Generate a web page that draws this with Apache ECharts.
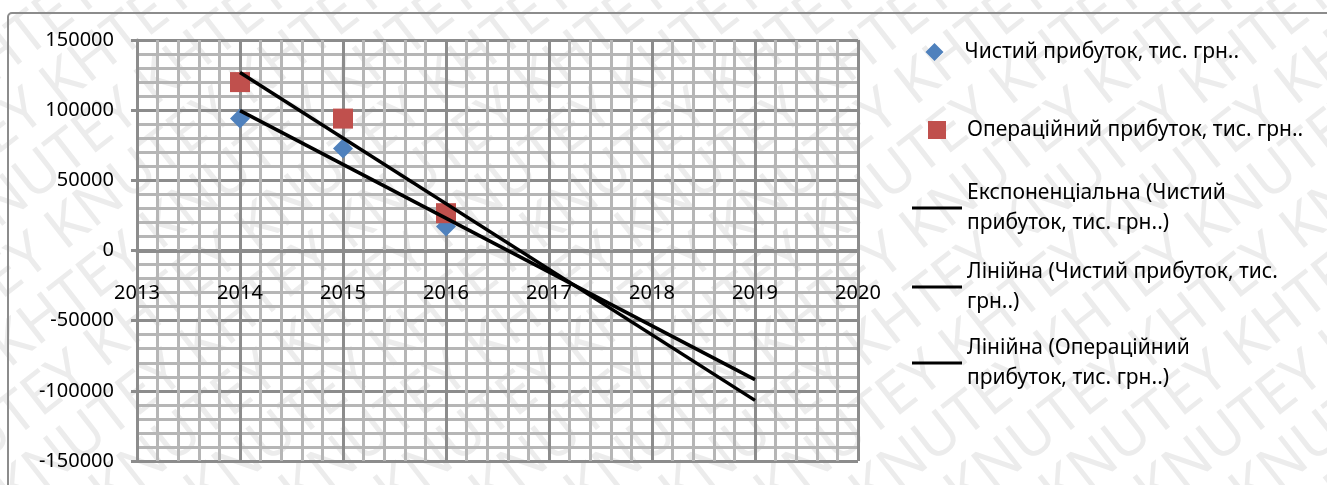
<!DOCTYPE html>
<html><head><meta charset="utf-8">
<script src="https://cdn.jsdelivr.net/npm/echarts@6/dist/echarts.min.js"></script>
<style>html,body{margin:0;padding:0;background:#fff}#c{width:1327px;height:485px}</style>
</head><body><div id="c"></div>
<script>
// ---- data ----
const years = [2014, 2015, 2016];
const netProfit = [94000, 72600, 17100];
const operatingProfit = [120000, 94000, 26600];
const netExpTrend = [];                       // not drawn in the reference
const netLinearTrend = [[2014, 99700], [2019, -92000]];
const opLinearTrend = [[2014, 126900], [2019, -106800]];
const xAxisRange = [2013, 2020];
const yAxisRange = [-150000, 150000];
const seriesNames = [
  'Чистий прибуток, тис. грн..',
  'Операційний прибуток, тис. грн..',
  'Експоненціальна (Чистий прибуток, тис. грн..)',
  'Лінійна (Чистий прибуток, тис. грн..)',
  'Лінійна (Операційний прибуток, тис. грн..)'
];
const legendLabels = [
  'Чистий прибуток, тис. грн..',
  'Операційний прибуток, тис. грн..',
  'Експоненціальна (Чистий\nприбуток, тис. грн..)',
  'Лінійна (Чистий прибуток, тис.\nгрн..)',
  'Лінійна (Операційний\nприбуток, тис. грн..)'
];
const watermarkText = 'KNUTEY KHTEY ';

const FONT = 'Noto Sans';
const MAJOR = '#8c8c8c';
const MINOR = '#b6b6b6';

const chart = echarts.init(document.getElementById('c'), null, {renderer: 'canvas'});

// legend icons drawn inside a 50x18 box (corner dots keep the box undistorted)
const BOX_A = 'M0,0h0.01v0.01h-0.01z ';
const BOX_B = ' M49.99,17.99h0.01v0.01h-0.01z';
const LINE_ICON = 'path://M0,0H50V3.2H0Z';
const legendIcons = [
  'path://' + BOX_A + 'M25,-1L35,9L25,19L15,9Z' + BOX_B,
  'path://' + BOX_A + 'M16,0H34V18H16Z' + BOX_B,
  LINE_ICON, LINE_ICON, LINE_ICON
];
const legendTops = [37, 115, 163, 242, 318];
const legends = seriesNames.map((n, i) => ({
  data: [{name: n, icon: legendIcons[i]}],
  left: 912,
  top: legendTops[i],
  orient: 'vertical',
  padding: 0,
  itemWidth: 50,
  itemHeight: 18,
  selectedMode: false,
  formatter: () => legendLabels[i],
  textStyle: {
    fontFamily: FONT, fontSize: 21, color: '#000', lineHeight: 30,
    padding: legendLabels[i].indexOf('\n') >= 0 ? [30, 0, 0, 0] : 0
  }
}));

// faint diagonal watermark
const wmAngle = 38 * Math.PI / 180;
const wmStep = 95;
const watermark = [];
for (let x0 = -1300; x0 <= 1450; x0 += wmStep) {
  watermark.push({
    type: 'text', z: -20, silent: true,
    x: x0, y: 740, rotation: wmAngle,
    style: {text: watermarkText.repeat(7), fill: '#ececec', font: '58px "Noto Sans"'}
  });
}

chart.setOption({
  backgroundColor: '#fff',
  animation: false,
  graphic: watermark.concat([{
    type: 'rect', z: -10,
    shape: {x: 8, y: 13, width: 1400, height: 600, r: 4},
    style: {fill: 'none', stroke: MAJOR, lineWidth: 2}
  }]),
  legend: legends,
  grid: {left: 137, right: 469, top: 40, bottom: 24, containLabel: false, outerBoundsMode: 'none'},
  xAxis: {
    type: 'value', min: xAxisRange[0], max: xAxisRange[1], interval: 1,
    offset: -210,
    axisLine: {show: true, onZero: false, lineStyle: {color: MAJOR, width: 3}},
    axisTick: {show: false},
    minorTick: {show: false, splitNumber: 5},
    axisLabel: {color: '#000', fontFamily: FONT, fontSize: 20, margin: 32, formatter: v => String(v)},
    splitLine: {show: true, lineStyle: {color: MAJOR, width: 3}},
    minorSplitLine: {show: true, lineStyle: {color: MINOR, width: 3}}
  },
  yAxis: {
    type: 'value', min: yAxisRange[0], max: yAxisRange[1], interval: 50000,
    axisLine: {show: true, lineStyle: {color: MAJOR, width: 3}},
    axisTick: {show: true, length: 6, lineStyle: {color: MAJOR, width: 3}},
    minorTick: {show: false, splitNumber: 5},
    axisLabel: {color: '#000', fontFamily: FONT, fontSize: 20, margin: 23, formatter: v => String(v)},
    splitLine: {show: true, lineStyle: {color: MAJOR, width: 3}},
    minorSplitLine: {show: true, lineStyle: {color: MINOR, width: 3}}
  },
  series: [
    {
      name: seriesNames[0], type: 'scatter', symbol: 'diamond', symbolSize: 20, z: 2,
      itemStyle: {color: '#4F81BD', opacity: 1},
      data: years.map((y, i) => [y, netProfit[i]])
    },
    {
      name: seriesNames[1], type: 'scatter', symbol: 'rect', symbolSize: 20, z: 2,
      itemStyle: {color: '#C0504D', opacity: 1},
      data: years.map((y, i) => [y, operatingProfit[i]])
    },
    {
      name: seriesNames[2], type: 'line', symbol: 'none', z: 3,
      itemStyle: {color: '#000'}, lineStyle: {color: '#000', width: 3.5},
      data: netExpTrend
    },
    {
      name: seriesNames[3], type: 'line', symbol: 'none', z: 3,
      itemStyle: {color: '#000'}, lineStyle: {color: '#000', width: 3.5},
      data: netLinearTrend
    },
    {
      name: seriesNames[4], type: 'line', symbol: 'none', z: 3,
      itemStyle: {color: '#000'}, lineStyle: {color: '#000', width: 3.5},
      data: opLinearTrend
    }
  ]
});
</script></body></html>
